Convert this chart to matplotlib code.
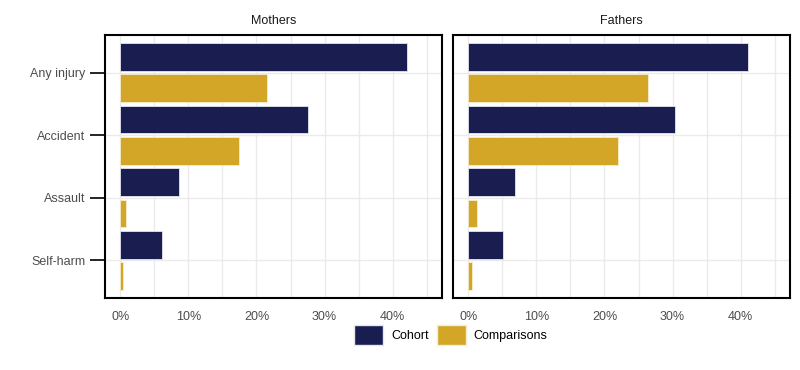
import numpy as np
import matplotlib
matplotlib.use("Agg")
import matplotlib.pyplot as plt
from matplotlib.patches import Patch

plt.rcParams['font.family'] = ['Liberation Sans', 'DejaVu Sans']

# Data (percent)
categories = ["Any injury", "Accident", "Assault", "Self-harm"]
panels = ["Mothers", "Fathers"]
mothers_cohort = [42.1, 27.5, 8.6, 6.1]
mothers_comp = [21.6, 17.5, 0.8, 0.4]
fathers_cohort = [41.1, 30.4, 6.8, 5.1]
fathers_comp = [26.4, 22.0, 1.3, 0.5]
x_ticks = [0, 10, 20, 30, 40]

navy = "#191d4f"
gold = "#d4a627"
grid_col = "#ebebeb"
fs = 9

fig = plt.figure(figsize=(8, 3.7), dpi=100)

ypos = np.arange(len(categories))[::-1] + 1  # Any injury on top
off = 0.25
bh = 0.44

def draw(ax, cohort, comp, title, show_y):
    ax.barh(ypos + off, cohort, height=bh, color=navy, edgecolor="#e6e6f0", linewidth=0.6, zorder=3)
    ax.barh(ypos - off, comp, height=bh, color=gold, edgecolor="#f5ecd0", linewidth=0.6, zorder=3)
    ax.set_xlim(-2.25, 47.25)
    ax.set_ylim(0.4, 4.6)
    ax.set_xticks(x_ticks)
    ax.set_xticklabels([f"{t}%" for t in x_ticks])
    ax.set_xticks([5, 15, 25, 35, 45], minor=True)
    ax.set_yticks(ypos)
    ax.set_yticklabels(categories if show_y else [])
    ax.grid(True, which="both", axis="x", color=grid_col, linewidth=1.0, zorder=0)
    ax.grid(True, which="major", axis="y", color=grid_col, linewidth=1.0, zorder=0)
    ax.set_axisbelow(True)
    ax.tick_params(axis="x", which="both", length=0, labelsize=fs, labelcolor="#4d4d4d", pad=9)
    if show_y:
        ax.tick_params(axis="y", length=11, width=1.2, color="black", labelsize=fs, labelcolor="#4d4d4d", pad=3)
    else:
        ax.tick_params(axis="y", length=0)
    for s in ax.spines.values():
        s.set_linewidth(1.5)
        s.set_color("black")
    ax.set_title(title, fontsize=fs, color="#1a1a1a", pad=8)

ax1 = fig.add_axes([105 / 800, 72 / 370, 337 / 800, 263 / 370])
ax2 = fig.add_axes([453 / 800, 72 / 370, 337 / 800, 263 / 370])
draw(ax1, mothers_cohort, mothers_comp, panels[0], True)
draw(ax2, fathers_cohort, fathers_comp, panels[1], False)

handles = [Patch(facecolor=navy, edgecolor="#e6e6f0"), Patch(facecolor=gold, edgecolor="#f5ecd0")]
fig.legend(handles, ["Cohort", "Comparisons"], loc="center", bbox_to_anchor=(451 / 800, 1 - 335 / 370),
           ncol=2, frameon=False, fontsize=fs, handlelength=2.3, handleheight=2.2,
           handletextpad=0.65, columnspacing=0.65, borderpad=0)

fig.savefig("out.png", dpi=100)
